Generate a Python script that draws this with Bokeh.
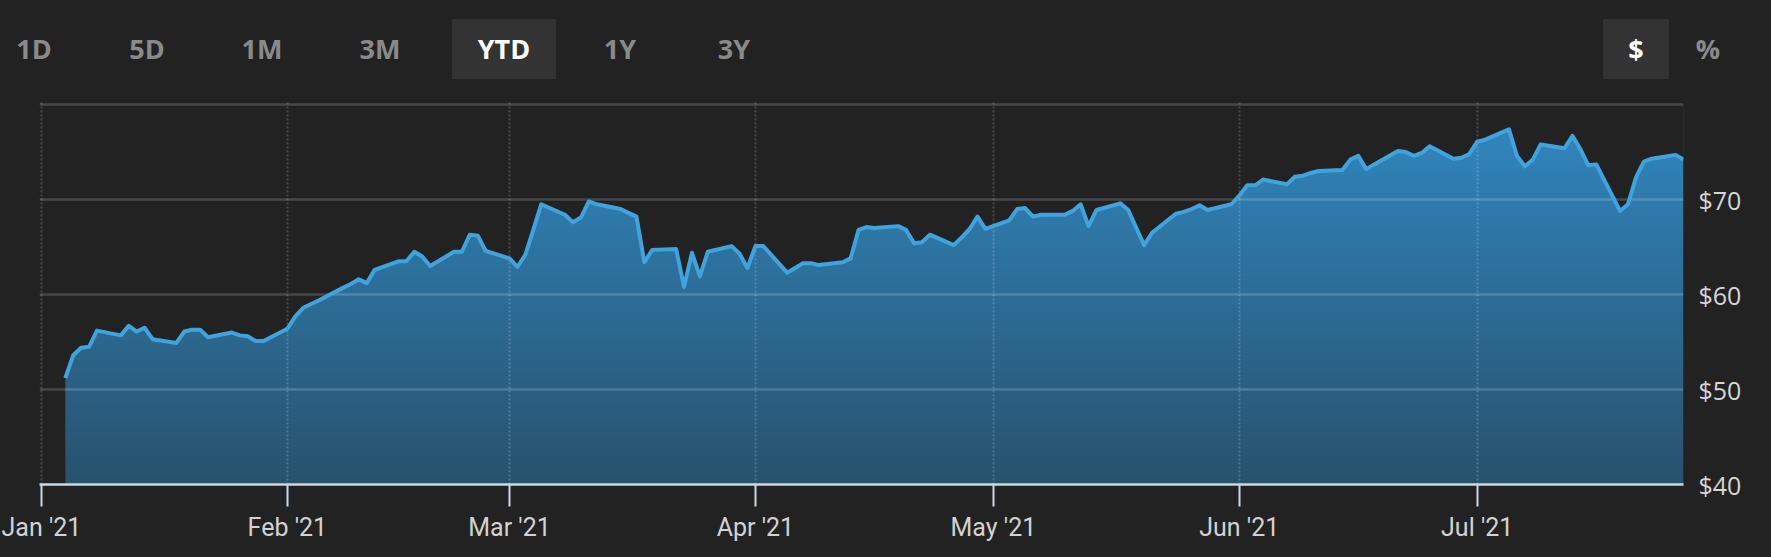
import numpy as np
import pandas as pd
from jinja2 import Template
from bokeh.plotting import figure
from bokeh.layouts import column
from bokeh.models import (ColumnDataSource, Range1d, MonthsTicker, DatetimeTickFormatter,
                          FixedTicker, NumeralTickFormatter, Div)
from bokeh.embed import file_html
from bokeh.resources import INLINE

# ---------------- data ----------------
dates = [
    "2021-01-04", "2021-01-05", "2021-01-06", "2021-01-07", "2021-01-08",
    "2021-01-11", "2021-01-12", "2021-01-13", "2021-01-14", "2021-01-15",
    "2021-01-18", "2021-01-19", "2021-01-20", "2021-01-21", "2021-01-22",
    "2021-01-25", "2021-01-26", "2021-01-27", "2021-01-28", "2021-01-29",
    "2021-02-01", "2021-02-02", "2021-02-03", "2021-02-04", "2021-02-05",
    "2021-02-08", "2021-02-09", "2021-02-10", "2021-02-11", "2021-02-12",
    "2021-02-15", "2021-02-16", "2021-02-17", "2021-02-18", "2021-02-19",
    "2021-02-22", "2021-02-23", "2021-02-24", "2021-02-25", "2021-02-26",
    "2021-03-01", "2021-03-02", "2021-03-03", "2021-03-04", "2021-03-05",
    "2021-03-08", "2021-03-09", "2021-03-10", "2021-03-11", "2021-03-12",
    "2021-03-15", "2021-03-16", "2021-03-17", "2021-03-18", "2021-03-19",
    "2021-03-22", "2021-03-23", "2021-03-24", "2021-03-25", "2021-03-26",
    "2021-03-29", "2021-03-30", "2021-03-31", "2021-04-01", "2021-04-02",
    "2021-04-05", "2021-04-06", "2021-04-07", "2021-04-08", "2021-04-09",
    "2021-04-12", "2021-04-13", "2021-04-14", "2021-04-15", "2021-04-16",
    "2021-04-19", "2021-04-20", "2021-04-21", "2021-04-22", "2021-04-23",
    "2021-04-26", "2021-04-27", "2021-04-28", "2021-04-29", "2021-04-30",
    "2021-05-03", "2021-05-04", "2021-05-05", "2021-05-06", "2021-05-07",
    "2021-05-10", "2021-05-11", "2021-05-12", "2021-05-13", "2021-05-14",
    "2021-05-17", "2021-05-18", "2021-05-20", "2021-05-21",
    "2021-05-24", "2021-05-25", "2021-05-26", "2021-05-27", "2021-05-28",
    "2021-05-31", "2021-06-01", "2021-06-02", "2021-06-03", "2021-06-04",
    "2021-06-07", "2021-06-08", "2021-06-09", "2021-06-10", "2021-06-11",
    "2021-06-14", "2021-06-15", "2021-06-16", "2021-06-17", "2021-06-18",
    "2021-06-21", "2021-06-22", "2021-06-23", "2021-06-24", "2021-06-25",
    "2021-06-28", "2021-06-29", "2021-06-30", "2021-07-01", "2021-07-02",
    "2021-07-05", "2021-07-06", "2021-07-07", "2021-07-08", "2021-07-09",
    "2021-07-12", "2021-07-13", "2021-07-14", "2021-07-15", "2021-07-16",
    "2021-07-19", "2021-07-20", "2021-07-21", "2021-07-22", "2021-07-23",
    "2021-07-26", "2021-07-27",
]
prices = [
    51.2, 53.6, 54.4, 54.5, 56.2,
    55.7, 56.7, 56.1, 56.5, 55.3,
    54.9, 56.1, 56.3, 56.3, 55.5,
    56.0, 55.7, 55.6, 55.1, 55.1,
    56.4, 57.7, 58.6, 59.0, 59.4,
    60.7, 61.1, 61.6, 61.2, 62.6,
    63.5, 63.5, 64.5, 64.0, 63.0,
    64.5, 64.5, 66.3, 66.2, 64.6,
    63.8, 62.9, 64.2, 66.8, 69.5,
    68.4, 67.6, 68.1, 69.8, 69.5,
    69.0, 68.6, 68.2, 63.4, 64.7,
    64.8, 60.8, 64.4, 61.9, 64.5,
    65.1, 64.3, 62.8, 65.1, 65.1,
    62.3, 62.8, 63.3, 63.3, 63.1,
    63.4, 63.8, 66.8, 67.1, 67.0,
    67.2, 66.8, 65.4, 65.5, 66.3,
    65.2, 66.0, 66.9, 68.2, 66.9,
    67.8, 69.0, 69.1, 68.2, 68.4,
    68.4, 68.8, 69.5, 67.2, 68.9,
    69.6, 68.9, 65.2, 66.5,
    68.5, 68.7, 69.0, 69.4, 68.9,
    69.5, 70.4, 71.5, 71.5, 72.1,
    71.6, 72.4, 72.5, 72.8, 73.0,
    73.1, 74.2, 74.6, 73.2, 73.7,
    75.1, 75.0, 74.6, 74.9, 75.6,
    74.3, 74.4, 74.8, 76.1, 76.3,
    77.4, 74.6, 73.5, 74.2, 75.8,
    75.4, 76.7, 75.3, 73.6, 73.7,
    68.8, 69.5, 72.3, 74.0, 74.3,
    74.7, 74.2,
]
y_ticks = [40, 50, 60, 70, 80]
y_hidden_labels = [80]
range_buttons = ["1D", "5D", "1M", "3M", "YTD", "1Y", "3Y"]
selected_range = "YTD"
unit_buttons = ["$", "%"]
selected_unit = "$"

# ---------------- style / layout ----------------
BG = "#222222"
LINE = "#3fa4de"
GRID = "white"
GRAD_TOP = (49, 137, 195)
GRAD_BOT = (41, 82, 108)

BORDER_L, BORDER_R = 39, 88
FRAME_W = 1771 - BORDER_L - BORDER_R
BAR_H = 96

x = pd.to_datetime(dates)
year_start = pd.Timestamp(year=x[0].year, month=1, day=1)
y_lo, y_hi = y_ticks[0], y_ticks[-1]
# small padding so the gridlines on the frame edges are not cut in half
x_start = year_start - pd.Timedelta(hours=6)
y_top = y_hi + 0.32

# ---------------- top button bar (HTML) ----------------
range_pos = [34, 147, 262, 380, 504, 620, 734]
unit_pos = [1636, 1708]
box_half = {"YTD": 52, "$": 33}
labels = range_buttons + unit_buttons
xs = range_pos + unit_pos
sel = [selected_range, selected_unit]

parts = []
for l, xx in zip(labels, xs):
    if l in sel:
        parts.append(
            f'<div style="position:absolute;left:{xx - box_half[l]}px;top:19px;'
            f'width:{2 * box_half[l]}px;height:60px;background:#333333;"></div>')
for l, xx in zip(labels, xs):
    col = "#ffffff" if l in sel else "#8a8a8a"
    parts.append(
        f'<div style="position:absolute;left:{xx - 60}px;top:19px;width:120px;height:60px;'
        f'line-height:60px;text-align:center;color:{col};">{l}</div>')
bar_html = ('<div style="position:relative;width:1771px;height:96px;background:#222222;'
            "font-family:'Open Sans';font-weight:700;font-size:27px;\">"
            + "".join(parts) + "</div>")
bar = Div(text=bar_html, width=1771, height=BAR_H, disable_math=True,
          styles={"margin": "0", "padding": "0"})

# ---------------- main chart ----------------
p = figure(frame_width=FRAME_W, frame_height=383, x_axis_type="datetime",
           x_range=Range1d(x_start, x[-1]), y_range=Range1d(y_lo, y_top),
           output_backend="svg", toolbar_location=None,
           min_border_left=BORDER_L, min_border_right=BORDER_R,
           min_border_top=5, min_border_bottom=73,
           y_axis_location="right")
p.background_fill_color = BG
p.border_fill_color = BG
p.outline_line_color = None

# vertical gradient under the price line: gradient image masked above the line
n = 400
t = np.linspace(0, 1, n)[:, None]
cols = np.array(GRAD_BOT) + (np.array(GRAD_TOP) - np.array(GRAD_BOT)) * t
img = np.empty((n, 1), dtype=np.uint32)
view = img.view(dtype=np.uint8).reshape((n, 1, 4))
view[:, 0, 0] = cols[:, 0].astype(np.uint8)
view[:, 0, 1] = cols[:, 1].astype(np.uint8)
view[:, 0, 2] = cols[:, 2].astype(np.uint8)
view[:, 0, 3] = 255
x0_ms = x[0].value / 1e6
dw_ms = (x[-1] - x[0]).total_seconds() * 1000
p.image_rgba(image=[img], x=x0_ms, y=y_lo, dw=dw_ms, dh=y_hi - y_lo, level="image")

# mask: everything above the price line back to the background colour
mask_top = y_hi + 3
mask_x = list(x) + [x[-1], x[0]]
mask_y = list(prices) + [mask_top, mask_top]
p.patch(x=mask_x, y=mask_y, fill_color=BG, line_color=BG, line_width=2, level="image")

src = ColumnDataSource(dict(x=x, y=prices))
p.line(x="x", y="y", source=src, line_color=LINE, line_width=4, line_join="round")

# grids
p.xaxis.ticker = MonthsTicker(months=list(range(12)))
p.xgrid.grid_line_color = GRID
p.xgrid.grid_line_alpha = 0.18
p.xgrid.grid_line_width = 2
p.xgrid.grid_line_dash = "2 2"
p.yaxis.ticker = FixedTicker(ticks=y_ticks)
p.ygrid.grid_line_color = GRID
p.ygrid.grid_line_alpha = 0.17
p.ygrid.grid_line_width = 2.5

# x axis
p.xaxis.formatter = DatetimeTickFormatter(days="%b '%y", months="%b '%y", years="%b '%y")
p.xaxis.axis_line_color = "#c9d9e6"
p.xaxis.axis_line_width = 2.5
p.xaxis.major_tick_line_color = "#c9d9e6"
p.xaxis.major_tick_line_width = 2
p.xaxis.major_tick_out = 22
p.xaxis.major_tick_in = 0
p.xaxis.minor_tick_out = 0
p.xaxis.minor_tick_in = 0
p.xaxis.major_label_text_font = "Roboto"
p.xaxis.major_label_text_font_size = "25px"
p.xaxis.major_label_text_color = "#d2d2d2"
p.xaxis.major_label_standoff = 6

# y axis (right)
p.yaxis.formatter = NumeralTickFormatter(format="$0")
p.yaxis.major_label_overrides = {v: "" for v in y_hidden_labels}
p.yaxis.axis_line_color = None
p.yaxis.major_tick_line_color = None
p.yaxis.minor_tick_line_color = None
p.yaxis.major_label_text_font = "Open Sans"
p.yaxis.major_label_text_font_size = "25px"
p.yaxis.major_label_text_color = "#d6d6d6"
p.yaxis.major_label_standoff = 9

layout = column(bar, p, spacing=0)

template = Template("""{% extends base %}
{% block preamble %}<style>html, body { background: #222222; }</style>{% endblock %}
""")

open("out.html", "w").write(file_html(layout, INLINE, template=template))
